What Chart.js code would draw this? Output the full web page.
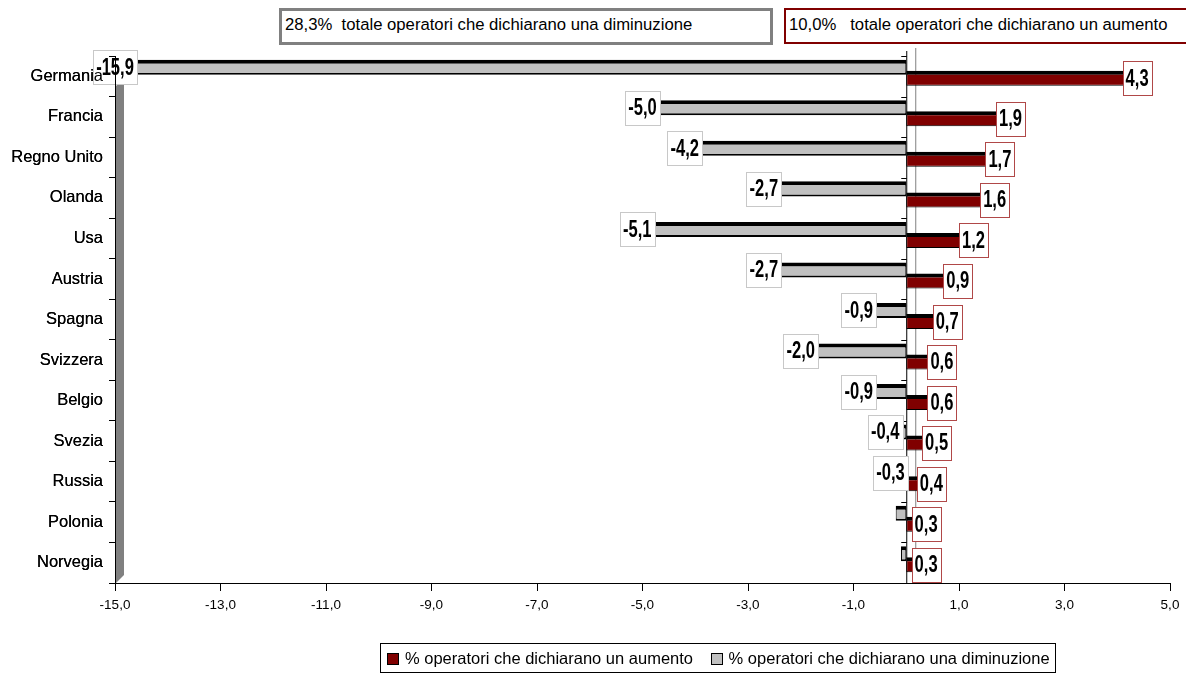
<!DOCTYPE html>
<html>
<head>
<meta charset="utf-8">
<script src="https://cdn.jsdelivr.net/npm/chart.js"></script>
<style>
    html, body { margin: 0; padding: 0; background: #fff; }
    #wrap { position: relative; width: 1186px; height: 674px; overflow: hidden; font-family: "Liberation Sans", Arial, sans-serif; }
    canvas { position: absolute; left: 0; top: 0; }
    .note { position: absolute; box-sizing: border-box; background: #fff; font-size: 16.7px; line-height: 28px; padding-left: 3px; white-space: pre; color: #000; }
    #noteDown { left: 279px; top: 8px; width: 494px; height: 37px; border: 3px solid #808080; }
    #noteUp { left: 784px; top: 8px; width: 410px; height: 36px; border: 2px solid #800000; line-height: 29px; }
    #legend { position: absolute; left: 380px; top: 643px; width: 676px; height: 30px; box-sizing: border-box; border: 1px solid #000; font-size: 16.5px; line-height: 28px; padding-left: 6px; white-space: nowrap; }
    #legend span.sw { display: inline-block; width: 10px; height: 10px; border: 1px solid #000; vertical-align: -1px; margin-right: 6px; }
</style>
</head>
<body>
<div id="wrap">
    <canvas id="barChart" width="1186" height="674"></canvas>
    <div class="note" id="noteDown"></div>
    <div class="note" id="noteUp"></div>
    <div id="legend"></div>
</div>
<script>
// Chart data
const countries = ['Germania', 'Francia', 'Regno Unito', 'Olanda', 'Usa', 'Austria', 'Spagna',
    'Svizzera', 'Belgio', 'Svezia', 'Russia', 'Polonia', 'Norvegia'];
const increaseValues = [4.3, 1.9, 1.7, 1.6, 1.2, 0.9, 0.7, 0.6, 0.6, 0.5, 0.4, 0.3, 0.3];
const decreaseValues = [-15.9, -5.0, -4.2, -2.7, -5.1, -2.7, -0.9, -2.0, -0.9, -0.4, -0.3, -0.2, -0.1];
const decreaseShown = [true, true, true, true, true, true, true, true, true, true, true, false, false];
const xTicks = [-15, -13, -11, -9, -7, -5, -3, -1, 1, 3, 5];
const increaseLabel = '% operatori che dichiarano un aumento';
const decreaseLabel = '% operatori che dichiarano una diminuzione';
const totalIncrease = 10.0;
const totalDecrease = 28.3;

const RED = '#800000';
const GRAY = '#c0c0c0';
const FONT = '"Liberation Sans", Arial, sans-serif';

function fmt(v) {
    return v.toFixed(1).replace('.', ',');
}

// Notes and legend (HTML text)
document.getElementById('noteDown').textContent = fmt(totalDecrease) + '%  totale operatori che dichiarano una diminuzione';
document.getElementById('noteUp').textContent = fmt(totalIncrease) + '%   totale operatori che dichiarano un aumento';
document.getElementById('legend').innerHTML =
    '<span class="sw" style="background:' + RED + '"></span>' + increaseLabel +
    ' <span class="sw" style="background:' + GRAY + ';margin-left:13px"></span>' + decreaseLabel;

// Zero line, side wall and value boxes
const decorPlugin = {
    id: 'decor',
    beforeDatasetsDraw(chart) {
        const ctx = chart.ctx;
        const area = chart.chartArea;
        const x0 = chart.scales.x.getPixelForValue(0);
        ctx.save();
        // 3D side wall at the left
        ctx.fillStyle = '#808080';
        ctx.beginPath();
        ctx.moveTo(area.left + 1, area.top + 30);
        ctx.lineTo(area.left + 9, area.top + 22);
        ctx.lineTo(area.left + 9, area.bottom - 8);
        ctx.lineTo(area.left + 1, area.bottom);
        ctx.closePath();
        ctx.fill();
        // back line
        ctx.strokeStyle = '#808080';
        ctx.lineWidth = 1;
        ctx.beginPath();
        ctx.moveTo(x0 + 9.5, area.top - 8);
        ctx.lineTo(x0 + 9.5, area.bottom - 8);
        ctx.stroke();
        // zero line with ticks
        ctx.strokeStyle = '#000';
        ctx.beginPath();
        ctx.moveTo(x0 + 0.5, area.top - 5);
        ctx.lineTo(x0 + 0.5, area.bottom);
        const step = (area.bottom - area.top) / countries.length;
        for (let i = 0; i < countries.length; i++) {
            const ty = Math.round(area.top + i * step) + 0.5;
            ctx.moveTo(x0 - 5, ty);
            ctx.lineTo(x0 + 0.5, ty);
        }
        ctx.stroke();
        ctx.restore();
    },
    afterDatasetsDraw(chart) {
        const ctx = chart.ctx;
        const area = chart.chartArea;
        const squeeze = 0.72; // condensed bold look of the value labels
        ctx.save();
        ctx.font = 'bold 23px ' + FONT;
        ctx.textAlign = 'center';
        ctx.textBaseline = 'middle';
        chart.data.datasets.forEach((ds, di) => {
            const meta = chart.getDatasetMeta(di);
            meta.data.forEach((bar, i) => {
                if (ds.showValue && !ds.showValue[i]) return;
                const text = fmt(ds.data[i]);
                const w = Math.round(ctx.measureText(text).width * squeeze) + 6;
                const h = 34;
                let cx = Math.max(bar.x, area.left);
                cx += ds.labelShift;
                const bx = Math.round(cx - w / 2) + 0.5;
                const by = Math.round(bar.y - h / 2) + 0.5;
                ctx.fillStyle = '#fff';
                ctx.fillRect(bx, by, w, h);
                ctx.strokeStyle = ds.boxColor;
                ctx.lineWidth = 1;
                ctx.strokeRect(bx, by, w, h);
                ctx.fillStyle = '#000';
                ctx.save();
                ctx.translate(cx, bar.y + 1);
                ctx.scale(squeeze, 1);
                ctx.fillText(text, 0, 0);
                ctx.restore();
            });
        });
        ctx.restore();
        // axis line and category names stay on top of the boxes
        chart.scales.y.draw(area);
    }
};

const ctx = document.getElementById('barChart').getContext('2d');
const barChart = new Chart(ctx, {
    type: 'bar',
    data: {
        labels: countries,
        datasets: [{
            label: decreaseLabel,
            data: decreaseValues,
            showValue: decreaseShown,
            backgroundColor: GRAY,
            borderColor: '#000',
            borderWidth: { top: 4, right: 1, bottom: 2, left: 1 },
            borderSkipped: false,
            boxColor: '#c8c8c8',
            labelShift: 0,
            categoryPercentage: 0.889,
            barPercentage: 0.833
        }, {
            label: increaseLabel,
            data: increaseValues,
            backgroundColor: RED,
            borderColor: '#000',
            borderWidth: { top: 4, right: 1, bottom: 1, left: 1 },
            borderSkipped: false,
            boxColor: '#b04848',
            labelShift: 4,
            categoryPercentage: 0.1975,
            barPercentage: 3.75
        }]
    },
    options: {
        indexAxis: 'y',
        responsive: false,
        animation: false,
        layout: { padding: { top: 56, right: 16, bottom: 0, left: 0 } },
        plugins: {
            legend: { display: false },
            tooltip: { enabled: false }
        },
        scales: {
            x: {
                min: -15,
                max: 5,
                afterBuildTicks: axis => { axis.ticks = xTicks.map(v => ({ value: v })); },
                afterFit: axis => { axis.height = 91; },
                grid: { drawOnChartArea: false, drawTicks: true, tickLength: 8, color: '#000' },
                border: { display: true, color: '#000', width: 1 },
                ticks: {
                    color: '#000',
                    padding: 6,
                    maxRotation: 0,
                    autoSkip: false,
                    font: { family: FONT, size: 13.5 },
                    callback: v => fmt(v)
                }
            },
            y: {
                afterFit: axis => { axis.width = 115; },
                grid: { drawOnChartArea: false, drawTicks: true, tickLength: 6, color: '#000' },
                border: { display: true, color: '#000', width: 1 },
                ticks: {
                    color: '#000',
                    padding: 6,
                    autoSkip: false,
                    font: { family: FONT, size: 16.5 }
                }
            }
        }
    },
    plugins: [decorPlugin]
});
</script>
</body>
</html>
